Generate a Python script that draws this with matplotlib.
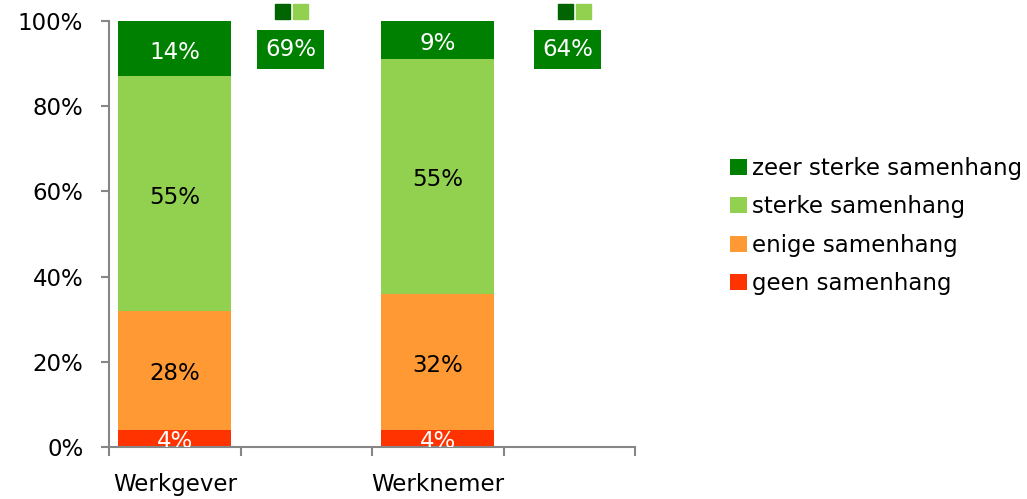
import matplotlib
matplotlib.use("Agg")
import matplotlib.pyplot as plt
from matplotlib.patches import Rectangle

plt.rcParams['font.family'] = ['DejaVu Sans']

# Data
groups = ["Werkgever", "Werknemer"]
series_names = ["geen samenhang", "enige samenhang", "sterke samenhang", "zeer sterke samenhang"]
geen = [4, 4]
enige = [28, 32]
sterke = [55, 55]
zeer_sterke = [14, 9]
series_values = [geen, enige, sterke, zeer_sterke]
series_colors = ["#FF3300", "#FF9933", "#92D050", "#008000"]
label_colors = ["white", "black", "black", "white"]
y_ticks = [0, 20, 40, 60, 80, 100]

FS = 16.5

fig = plt.figure(figsize=(10.27, 4.99), dpi=100)
ax = fig.add_axes([109 / 1027, 52 / 499, 526 / 1027, 426 / 499])

n_slots = 2 * len(groups)
bar_x = [2 * i + 0.5 for i in range(len(groups))]
bar_w = 0.86

# Stacked bars with centred percentage labels
bottoms = [0] * len(groups)
bars_for_legend = []
for vals, name, col, lcol in zip(series_values, series_names, series_colors, label_colors):
    b = ax.bar(bar_x, vals, bar_w, bottom=bottoms, color=col, label=name,
               linewidth=0, zorder=2)
    bars_for_legend.append(b)
    for x, v, b0 in zip(bar_x, vals, bottoms):
        top = min(b0 + v, 100)
        ax.annotate(f"{v}%", (x, (b0 + top) / 2), xytext=(0, -2.5),
                    textcoords="offset points", ha="center", va="center",
                    fontsize=FS, color=lcol, annotation_clip=False,
                    clip_on=True, zorder=3)
    bottoms = [b0 + v for b0, v in zip(bottoms, vals)]

# Combined share of "sterke" + "zeer sterke" next to each bar
combined = [s + z for s, z in zip(sterke, zeer_sterke)]
box_x = [1.38, 3.49]
key_x = [1.39, 3.54]
for bx, kx, total in zip(box_x, key_x, combined):
    ax.text(bx, 93.3, f"{total}%", ha="center", va="center", fontsize=FS,
            color="white", zorder=4,
            bbox=dict(boxstyle="square,pad=0.35", fc="#008000", ec="none"))
    key_size_x = 15 / 131.5
    key_size_y = 15 / 4.26
    ax.add_patch(Rectangle((kx - key_size_x - 0.012, 102.2 - key_size_y / 2),
                           key_size_x, key_size_y, color="#006400",
                           clip_on=False, zorder=4))
    ax.add_patch(Rectangle((kx + 0.012, 102.2 - key_size_y / 2),
                           key_size_x, key_size_y, color="#92D050",
                           clip_on=False, zorder=4))

# Axes styling
ax.set_xlim(0, n_slots)
ax.set_ylim(0, 100)
ax.set_yticks(y_ticks)
ax.set_yticklabels([f"{t}%" for t in y_ticks], fontsize=FS)
ax.set_xticks(range(n_slots + 1))
ax.set_xticklabels([])
ax.set_xticks(bar_x, minor=True)
ax.set_xticklabels(groups, minor=True, fontsize=FS)
ax.tick_params(axis="x", which="major", length=6.5, width=1.5, color="#868686",
               direction="out")
ax.tick_params(axis="x", which="minor", length=0, pad=19)
ax.tick_params(axis="y", length=6, width=1.5, color="#868686", direction="out",
               pad=12.5)
for side in ("top", "right"):
    ax.spines[side].set_visible(False)
for side in ("left", "bottom"):
    ax.spines[side].set_color("#868686")
    ax.spines[side].set_linewidth(1.5)

# Legend, top entry = top of stack
handles = bars_for_legend[::-1]
labels = series_names[::-1]
fig.legend(handles, labels, loc="center left", bbox_to_anchor=(730 / 1027, 0.547),
           frameon=False, fontsize=FS, handlelength=0.75, handleheight=0.7,
           handletextpad=0.2, labelspacing=0.67, borderpad=0, borderaxespad=0)

fig.savefig("out.png", dpi=100)
